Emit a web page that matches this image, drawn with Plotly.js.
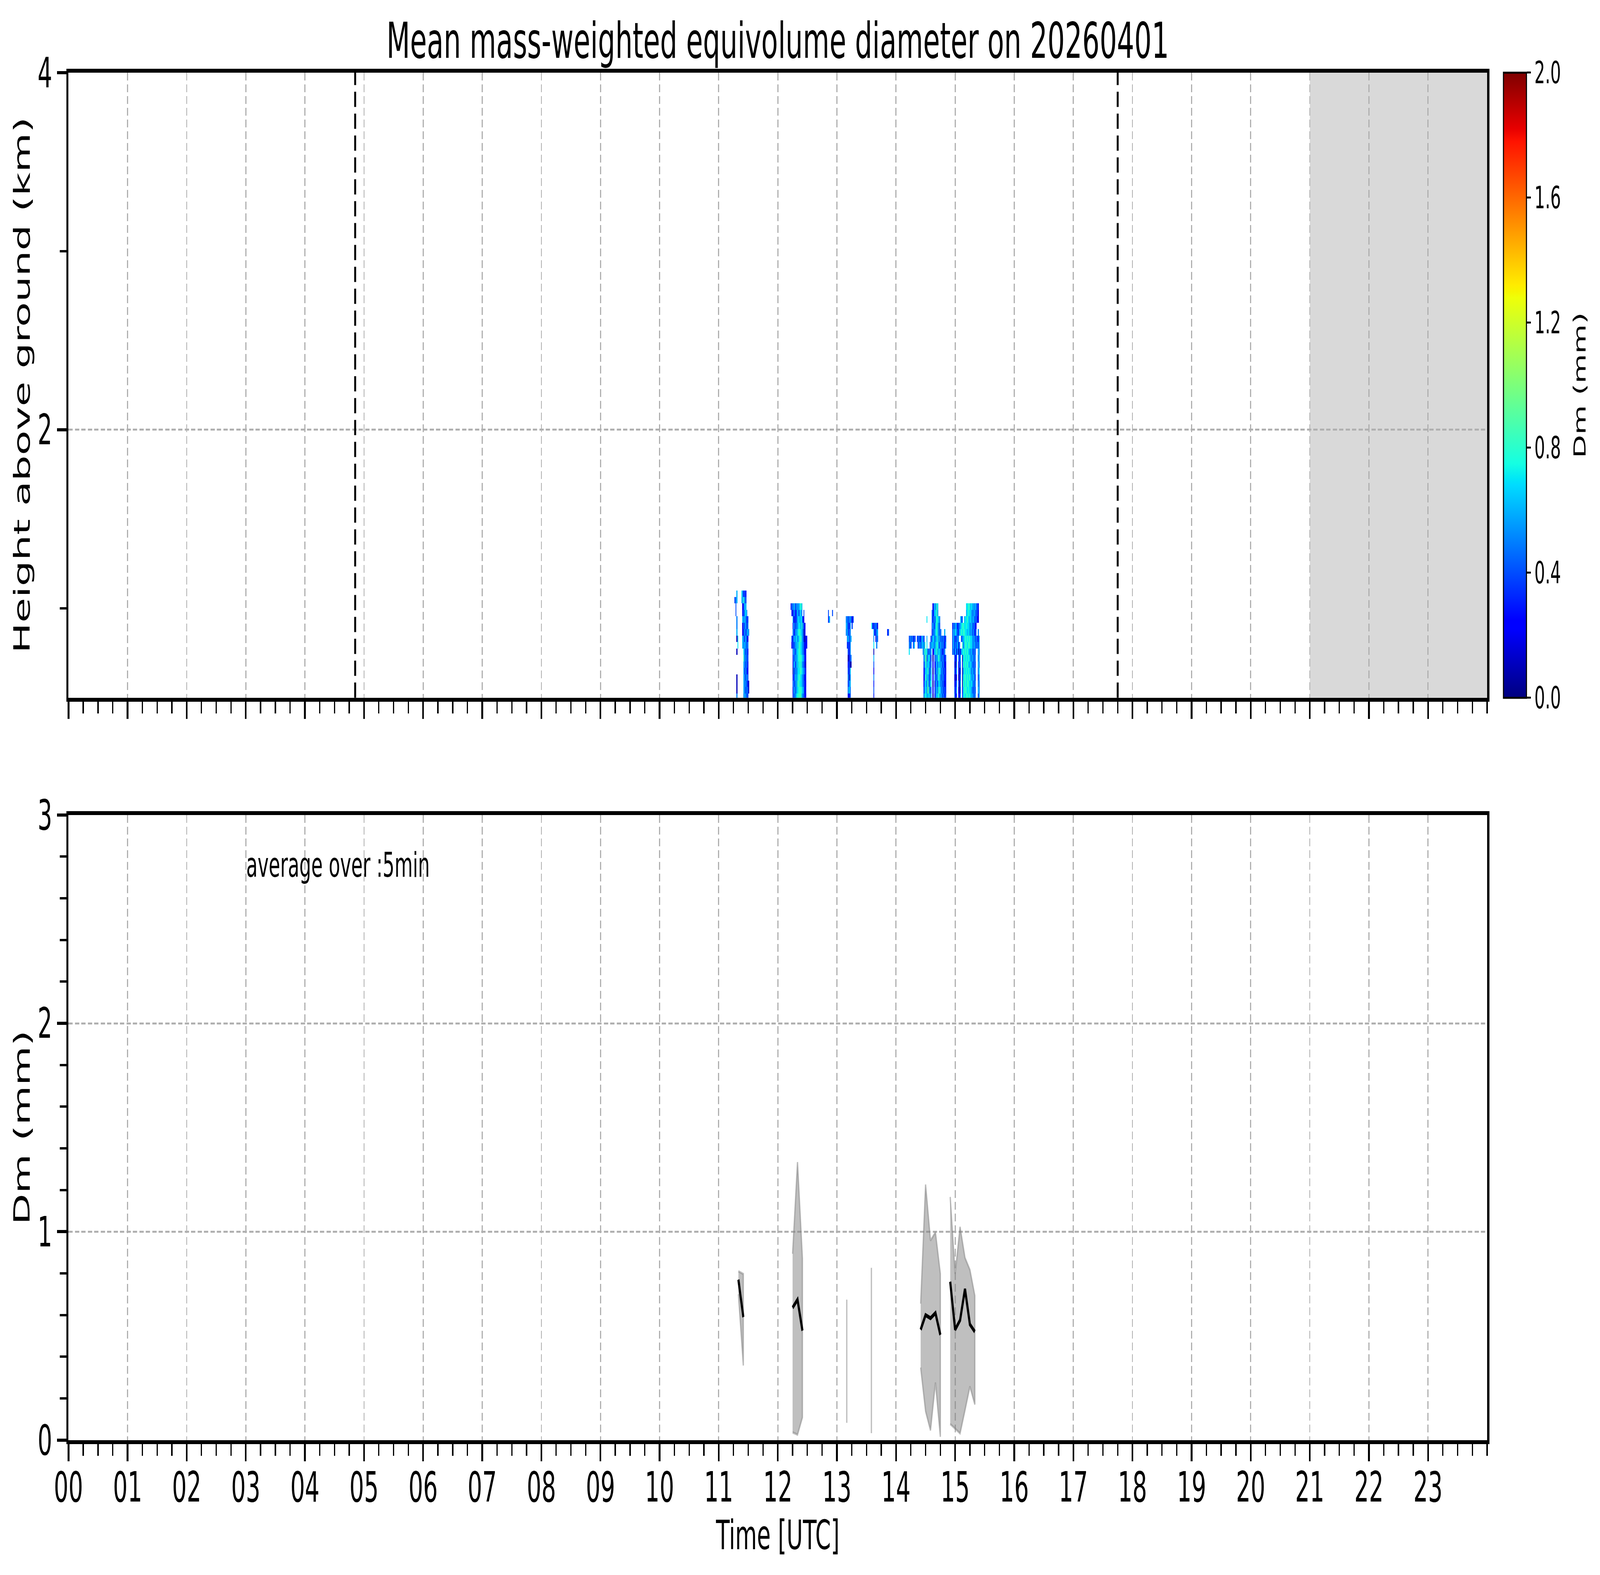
<!DOCTYPE html>
<html>
<head>
<meta charset="utf-8">
<script src="https://cdn.plot.ly/plotly-3.0.1.min.js"></script>
<style>html,body{margin:0;padding:0;background:#fff;overflow:hidden}</style>
</head>
<body>
<div id="chart" style="width:7442px;height:4031px;transform-origin:0 0"></div>
<script>
// Height bins of the profiler (km above ground), listed top to bottom
const heights = [1.082, 1.046, 1.010, 0.974, 0.938, 0.902, 0.866, 0.830, 0.794,
                 0.758, 0.722, 0.686, 0.650, 0.614, 0.578, 0.542, 0.506];

// Dm curtain, 1-min columns. One char per cell: digit d -> d/10 mm, '.' -> no data
const blockStarts = ['11:15', '12:12', '12:51', '13:09', '13:35', '14:13', '14:57'];

const blockA = [
    "...6....75343....",
    ".456....66854....",
    "..4......2466....",
    "..4......34575...",
    "...5.....656534..",
    "...5.....254625..",
    "...6.....2454565.",
    "...17....654622..",
    "....7....656545..",
    "...1......75453..",
    "..........85544..",
    "..........65453..",
    "..........64533..",
    "...1......65464..",
    "...1......655431.",
    "...1......654541.",
    "...5......56544.."
];
const blockB = [
    "..................",
    "..................",
    ".254654656786.....",
    "..32543564765.4...",
    "...624356757632...",
    "...3625467768542..",
    "...5436578876512..",
    "..4265675788652132",
    "..2536576887654232",
    "...46356788765423.",
    "...35465788876532.",
    "...26547687865431.",
    "...15364778876542.",
    "...34565788765423.",
    "...45365887765432.",
    "...26456788876523.",
    "...35467889865432."
];
const blockC1 = [
    ".....", ".....", ".....", "4...4", "36...", ".....", ".....", ".....", ".....",
    ".....", ".....", ".....", ".....", ".....", ".....", ".....", "....."
];
const blockC2 = [
    "........",
    "........",
    "........",
    "........",
    "55455524",
    "65425.4.",
    "56445...",
    ".56456..",
    ".3425...",
    "..425...",
    "..1245..",
    "..3411..",
    "..426...",
    "..515...",
    "..456...",
    "..575...",
    "..324..."
];
const blockC3 = [
    "..................",
    "..................",
    "..................",
    "..................",
    "..................",
    "7344542...........",
    "..63456.........34",
    "..5.254...........",
    "..7..5............",
    "..1...............",
    "..6...............",
    "..4...............",
    "..2...............",
    "..5...............",
    "..3...............",
    "..4...............",
    "..3..............."
];
const blockD1 = [
    "......................................",
    "......................................",
    "........................256586........",
    ".......................5347685........",
    "..................7....536478765......",
    ".......................463578654......",
    ".......................3546786545...6.",
    "4545344.44534654..6...4567476856454534",
    "545.46...45546658.7..46574668754645435",
    "7.............569784546.2476857654345.",
    "...............57946754.1.465786545434",
    "...............46857645.2.356475654523",
    "...............35768546.1.446587645342",
    "...............26857456.2.545686545433",
    "...............37658467.1.365476554423",
    "...............46759645.2.456587645343",
    "...............58766756.1.366785654534"
];
const blockD2 = [
    "............................",
    "............................",
    "..............7788676656543.",
    "..............6787765565442.",
    "........745.677876765654532.",
    "3546534567887787765654532...",
    "4657543678788776765645435.5.",
    "4634455..4567878787765645436",
    "46354625..857887887765654546",
    "453625142678787876565454..65",
    "..424.536.17878787656545..56",
    "..315.245.28787876765454..65",
    "..426.314.16878787756545..57",
    "..213.125.17887878765654..46",
    "..325.416.18787887676545..55",
    "..436.215.27888787765454..65",
    "..524.326.37878878766545..46"
];
const blockRows = [blockA, blockB, blockC1, blockC2, blockC3, blockD1, blockD2];

// 5-min averaged Dm (mm): mean and spread envelope
const dmTimes = ['11:20', '11:25', '12:15', '12:20', '12:25', '13:10', '13:35',
                 '14:25', '14:30', '14:35', '14:40', '14:45',
                 '14:55', '15:00', '15:05', '15:10', '15:15', '15:20'];
const dmMean = [0.77, 0.59, 0.635, 0.674, 0.525, 0.38, 0.43,
                0.53, 0.60, 0.585, 0.61, 0.505,
                0.76, 0.53, 0.575, 0.725, 0.555, 0.52];
const dmHigh = [0.81, 0.797, 0.894, 1.334, 0.872, 0.674, 0.827,
                0.655, 1.226, 0.958, 0.997, 0.798,
                1.167, 0.798, 1.023, 0.875, 0.817, 0.693];
const dmLow = [0.70, 0.358, 0.037, 0.026, 0.109, 0.083, 0.033,
               0.348, 0.138, 0.047, 0.276, 0.016,
               0.077, 0.055, 0.032, 0.143, 0.257, 0.171];

const sunLines = ['04:51', '17:45'];   // dashed markers in the upper panel
const shadedSpan = [21, 24];          // hours without data
const hourLabels = ['00', '01', '02', '03', '04', '05', '06', '07', '08', '09', '10', '11',
                    '12', '13', '14', '15', '16', '17', '18', '19', '20', '21', '22', '23'];
const cbTicks = [0, 0.4, 0.8, 1.2, 1.6, 2.0];

// matplotlib "jet"
const jet = [[0, 'rgb(0,0,127)'], [0.11, 'rgb(0,0,255)'], [0.125, 'rgb(0,0,255)'],
             [0.34, 'rgb(0,219,255)'], [0.35, 'rgb(0,230,247)'], [0.375, 'rgb(21,255,226)'],
             [0.64, 'rgb(239,255,8)'], [0.65, 'rgb(247,245,0)'], [0.66, 'rgb(255,236,0)'],
             [0.89, 'rgb(255,19,0)'], [0.91, 'rgb(232,0,0)'], [1, 'rgb(127,0,0)']];

const FONT = 'DejaVu Sans, sans-serif';

function toHours(s) {
    const [h, m] = s.split(':').map(Number);
    return h + m / 60;
}

// One heatmap per block of 1-min columns
function curtainTrace(rows, start) {
    const t0 = toHours(start);
    const width = Math.max(...rows.map(r => r.length));
    const x = Array.from({length: width}, (_, k) => t0 + (k + 0.5) / 60);
    const z = rows.map(r => Array.from({length: width}, (_, k) => {
        const c = r[k];
        return (c === undefined || c === '.') ? null : Number(c) / 10;
    }));
    return {
        type: 'heatmap', x: x, y: heights.slice().reverse(), z: z.reverse(),
        coloraxis: 'coloraxis', xaxis: 'x', yaxis: 'y', hoverinfo: 'skip', xgap: 0, ygap: 0
    };
}

const traces = blockRows.map((rows, i) => curtainTrace(rows, blockStarts[i]));

// split the 5-min series where consecutive points are more than one step apart
const tHours = dmTimes.map(toHours);
const segments = [];
tHours.forEach((t, i) => {
    if (i === 0 || t - tHours[i - 1] > 6 / 60) segments.push([]);
    segments[segments.length - 1].push(i);
});

const meanX = [], meanY = [];
segments.forEach(seg => {
    const xs = seg.map(i => tHours[i]);
    const hi = seg.map(i => dmHigh[i]);
    const lo = seg.map(i => dmLow[i]);
    traces.push({
        type: 'scatter', mode: 'lines', xaxis: 'x2', yaxis: 'y2',
        x: xs.concat(xs.slice().reverse()), y: hi.concat(lo.slice().reverse()),
        fill: 'toself', fillcolor: 'rgba(128,128,128,0.5)',
        line: {color: 'rgba(128,128,128,0.5)', width: 6}, hoverinfo: 'skip', showlegend: false
    });
    seg.forEach(i => { meanX.push(tHours[i]); meanY.push(dmMean[i]); });
    meanX.push(null); meanY.push(null);
});
traces.push({
    type: 'scatter', mode: 'lines', xaxis: 'x2', yaxis: 'y2', x: meanX, y: meanY,
    line: {color: 'black', width: 10}, connectgaps: false, showlegend: false
});

const W = 7442, H = 4031;
const xDomain = [318.5 / W, 6917 / W];
const yTop = [1 - 1785.7 / H, 1 - 185.7 / H];
const yBot = [1 - 3685.7 / H, 1 - 2085.7 / H];

const baseAxis = {
    showline: true, linecolor: 'black', linewidth: 10, mirror: true,
    ticks: 'outside', ticklen: 44, tickwidth: 8, tickcolor: 'black',
    showgrid: true, gridcolor: '#b0b0b0', gridwidth: 5, griddash: '20px,10px',
    zeroline: false, automargin: false, fixedrange: true,
    tickfont: {family: FONT, size: 107, color: 'black'}
};
const minorTicks = (dtick) => ({
    tickmode: 'linear', tick0: 0, dtick: dtick, ticks: 'outside',
    ticklen: 30, tickwidth: 6, tickcolor: 'black', showgrid: false
});
const hourVals = hourLabels.map((_, i) => i);

const layout = {
    width: W, height: H,
    margin: {l: 0, r: 0, t: 0, b: 0},
    paper_bgcolor: 'white', plot_bgcolor: 'white',
    font: {family: FONT, color: 'black', size: 107},
    showlegend: false,
    title: {
        text: 'Mean mass-weighted equivolume diameter on 20260401',
        font: {family: FONT, size: 127, color: 'black'},
        x: (xDomain[0] + xDomain[1]) / 2, xref: 'paper', xanchor: 'center',
        y: 1 - 148 / H, yref: 'container', yanchor: 'bottom'
    },
    xaxis: Object.assign({}, baseAxis, {
        domain: xDomain, anchor: 'y', range: [0, 24],
        tickmode: 'array', tickvals: hourVals, showticklabels: false,
        minor: minorTicks(0.25)
    }),
    yaxis: Object.assign({}, baseAxis, {
        domain: yTop, anchor: 'x', range: [0.5, 4],
        tickmode: 'linear', tick0: 0, dtick: 2, minor: minorTicks(1),
        title: {text: 'Height above ground (km)', font: {family: FONT, size: 104}, standoff: 5}
    }),
    xaxis2: Object.assign({}, baseAxis, {
        domain: xDomain, anchor: 'y2', range: [0, 24],
        tickmode: 'array', tickvals: hourVals, ticktext: hourLabels,
        ticklabelstandoff: -25,
        minor: minorTicks(0.25),
        title: {text: 'Time [UTC]', font: {family: FONT, size: 104}, standoff: 10}
    }),
    yaxis2: Object.assign({}, baseAxis, {
        domain: yBot, anchor: 'x2', range: [0, 3],
        tickmode: 'linear', tick0: 0, dtick: 1, minor: minorTicks(0.2),
        title: {text: 'Dm (mm)', font: {family: FONT, size: 104}, standoff: 5}
    }),
    coloraxis: {
        cmin: 0, cmax: 2, colorscale: jet,
        colorbar: {
            x: 6993 / W, xanchor: 'left', xref: 'paper', xpad: 0,
            y: yTop[1], yanchor: 'top', yref: 'paper', ypad: 0,
            len: yTop[1] - yTop[0], lenmode: 'fraction',
            thickness: 107, thicknessmode: 'pixels',
            outlinewidth: 5, outlinecolor: 'black',
            ticks: 'outside', ticklen: 19, tickwidth: 5, tickcolor: 'black',
            tickmode: 'array', tickvals: cbTicks, tickformat: '.1f',
            tickfont: {family: FONT, size: 78, color: 'black'}
        }
    },
    shapes: [
        {
            type: 'rect', xref: 'x', yref: 'y domain', x0: shadedSpan[0], x1: shadedSpan[1], y0: 0, y1: 1,
            fillcolor: 'rgb(217,217,217)', line: {width: 0}, layer: 'below'
        }
    ].concat(sunLines.map(s => ({
        type: 'line', xref: 'x', yref: 'y domain', x0: toHours(s), x1: toHours(s), y0: 0, y1: 1,
        line: {color: 'black', width: 9, dash: '39px,17px'}, layer: 'above'
    }))),
    annotations: [
        {
            xref: 'x2', yref: 'y2', x: 3, y: 2.66, xanchor: 'left', yanchor: 'bottom',
            text: 'average over :5min', showarrow: false,
            font: {family: FONT, size: 87, color: 'black'}
        },
        {   // colorbar label
            xref: 'paper', yref: 'paper', x: 7348 / W, y: (yTop[0] + yTop[1]) / 2,
            xanchor: 'center', yanchor: 'middle', textangle: -90,
            text: 'Dm (mm)', showarrow: false,
            font: {family: FONT, size: 78, color: 'black'}
        }
    ]
};

// the browser may cap the window below 7442 px: fit the full figure into it
const chartDiv = document.getElementById('chart');
const sx = Math.min(1, window.innerWidth / W), sy = Math.min(1, window.innerHeight / H);
if (sx < 1 || sy < 1) chartDiv.style.transform = 'scale(' + sx + ',' + sy + ')';

Plotly.newPlot(chartDiv, traces, layout, {staticPlot: true, displayModeBar: false});
</script>
</body>
</html>
